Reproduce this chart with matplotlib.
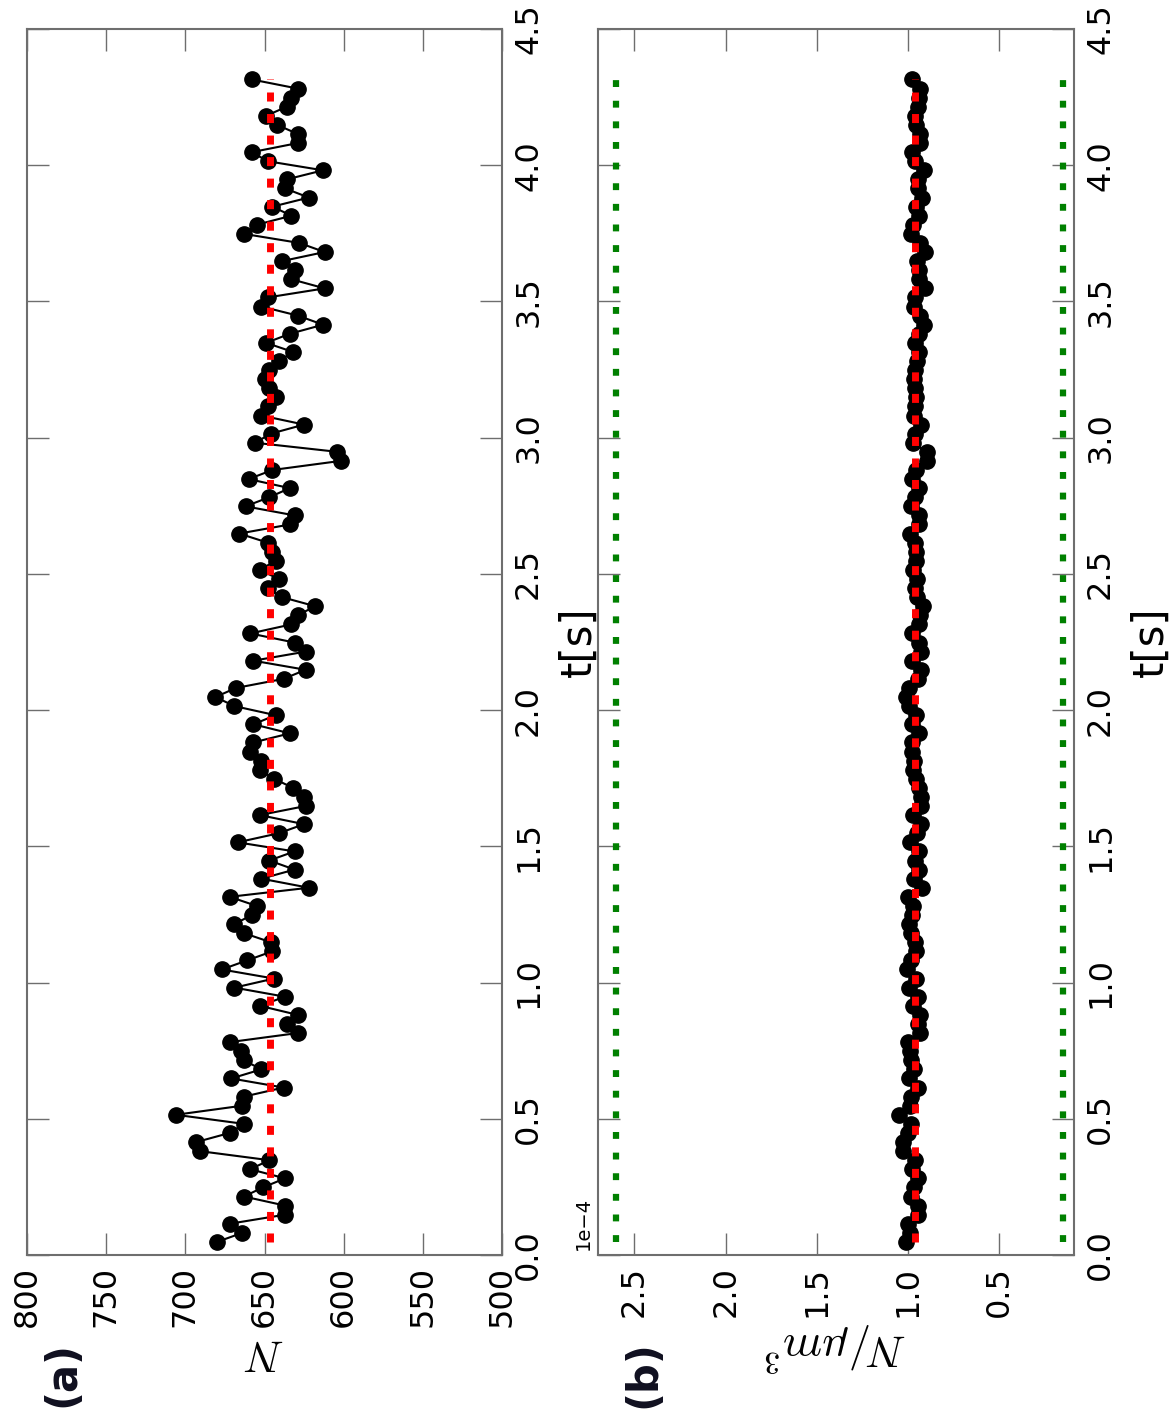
import numpy as np
import matplotlib
matplotlib.use("Agg")
import matplotlib.pyplot as plt
from matplotlib.ticker import FormatStrFormatter, FuncFormatter

# particle counts per frame, in time order
counts = np.array([
    680, 664, 672, 637, 637, 663, 651, 637, 659, 647, 691, 693, 672, 663, 706,
    664, 663, 638, 671, 652, 663, 665,
    672, 629, 636, 629, 653, 637, 669, 644, 677, 661, 645, 646, 663, 669, 658,
    655, 672, 622, 652, 631, 647, 631,
    667, 641, 625, 653, 624, 625, 632, 644, 653, 652, 659, 657, 634, 657, 643,
    669, 681, 668, 638, 624, 657, 624, 631,
    659, 633, 629, 618, 639, 648, 641, 653, 643, 645, 648, 666, 634, 631, 662,
    647, 634, 660, 645, 602, 604, 656,
    646, 625, 652, 648, 643, 647, 650, 647, 641, 632, 649, 634, 613, 629, 652,
    648, 612, 633, 631, 639, 612, 628, 663,
    655, 633, 645, 622, 637, 636, 613, 648, 658, 629, 629, 642, 649, 636, 633,
    629, 658,
])
fps = 30.0
t_start = 0.048
volume_um3 = 6.73e6
reference_density = [2.6e-4, 0.15e-4]

n_ticks = [800, 750, 700, 650, 600, 550, 500]
density_ticks = [2.5e-4, 2.0e-4, 1.5e-4, 1.0e-4, 0.5e-4]
t_ticks = [0.0, 0.5, 1.0, 1.5, 2.0, 2.5, 3.0, 3.5, 4.0, 4.5]

times = t_start + np.arange(len(counts)) / fps
density = counts / volume_um3
t_span = [times[0], times[-1]]

plt.rcParams['font.family'] = ['DejaVu Sans']
plt.rcParams['mathtext.fontset'] = 'cm'

W, H = 1174, 1417
fig = plt.figure(figsize=(W / 100, H / 100), dpi=100)


def px_axes(left, top, right, bottom):
    return fig.add_axes([left / W, 1 - bottom / H,
                         (right - left) / W, (bottom - top) / H])


GREY = '#6e6e6e'


def style_axes(ax, xlabel):
    for sp in ax.spines.values():
        sp.set_color(GREY)
        sp.set_linewidth(1.5)
    ax.set_ylim(0, 4.5)
    ax.set_yticks(t_ticks)
    ax.yaxis.set_major_formatter(FormatStrFormatter('%.1f'))
    ax.tick_params(direction='in', length=16, width=1, color=GREY,
                   top=True, bottom=True, left=True, right=True,
                   labelleft=False, labelright=True, labelsize=23, pad=8,
                   labelrotation=90)
    plt.setp(ax.get_yticklabels(), va='center', ha='left')
    plt.setp(ax.get_xticklabels(), va='top', ha='center')
    ax.yaxis.set_label_position('right')
    ax.set_ylabel('t[s]', fontsize=30, rotation=90, labelpad=10)
    ax.set_xlabel(xlabel, fontsize=32, rotation=180, labelpad=2)


# panel (a): raw counts
ax_a = px_axes(27, 29, 502, 1255)
ax_a.plot(counts, times, 'o-', color='black', ms=11, lw=1.5, zorder=2)
ax_a.plot([counts.mean()] * 2, t_span, color='red', lw=5,
          linestyle=(0, (1.3, 1.8)), zorder=3)
ax_a.set_xlim(800, 500)
ax_a.set_xticks(n_ticks)
ax_a.xaxis.set_major_formatter(FormatStrFormatter('%d'))
style_axes(ax_a, '$N$')

# panel (b): density
ax_b = px_axes(598, 29, 1074, 1255)
ax_b.plot(density, times, 'o-', color='black', ms=11, lw=1.5, zorder=2)
ax_b.plot([density.mean()] * 2, t_span, color='red', lw=5,
          linestyle=(0, (1.3, 1.8)), zorder=3)
for ref in reference_density:
    ax_b.plot([ref, ref], t_span, color='#008000', lw=4.5,
              linestyle=(0, (1.1, 2.2)), zorder=3)
ax_b.set_xlim(2.70e-4, 0.09e-4)
ax_b.set_xticks(density_ticks)
ax_b.xaxis.set_major_formatter(FuncFormatter(lambda v, p: '%.1f' % (v * 1e4)))
style_axes(ax_b, r'$N/\mu m^3$')
ax_b.text(-0.011, 0.004, '1e\u22124', transform=ax_b.transAxes, rotation=90,
          ha='right', va='bottom', fontsize=14)

fig.text(62 / W, 1 - 1374 / H, '(a)', rotation=90, fontsize=30,
         fontweight='bold', ha='center', va='center', color='#101020')
fig.text(643 / W, 1 - 1374 / H, '(b)', rotation=90, fontsize=30,
         fontweight='bold', ha='center', va='center', color='#101020')

fig.savefig('out.png', dpi=100)
